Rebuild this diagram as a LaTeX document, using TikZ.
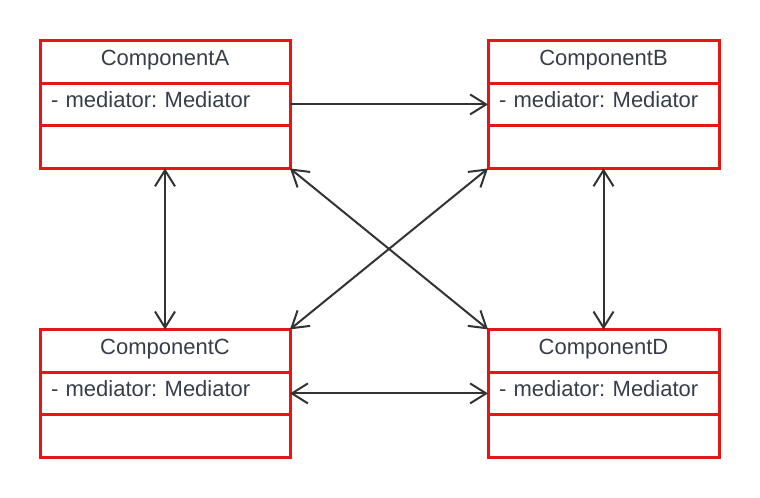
\documentclass[tikz,border=0pt]{standalone}
\usepackage{fontspec}
\setmainfont{Liberation Sans}
\usepackage{tikz}
\usetikzlibrary{arrows.meta,positioning}
\definecolor{classred}{RGB}{230,22,22}
\definecolor{inkgrey}{RGB}{55,61,74}
\definecolor{linkgrey}{RGB}{51,51,51}
\frenchspacing

\begin{document}
\begin{tikzpicture}[x=0.75pt,y=-0.75pt,
  cbox/.style={draw=classred,line width=2.25pt,outer sep=0pt,minimum height=32pt,inner xsep=8.25pt,inner ysep=0pt,text=inkgrey,font=\fontsize{16.5pt}{19pt}\selectfont,text height=0.72em,text depth=0.21em},
  cname/.style={cbox,minimum width=#1,align=center},
  cattr/.style={cbox,text width=#1-16.5pt,align=left},
  cops/.style={cbox,minimum width=#1},
  arr/.style={-{Straight Barb[length=12pt,width=15pt]},line width=1.5pt,linkgrey},
  darr/.style={{Straight Barb[length=12pt,width=15pt]}-{Straight Barb[length=12pt,width=15pt]},line width=1.5pt,linkgrey}]
\useasboundingbox (0,0) rectangle (760,498);
\node[cname=187.5pt] (compA) at (165,61.75) {ComponentA};
\node[cattr=187.5pt,below=0pt of compA] (compAattr) {- mediator: Mediator};
\node[cops=187.5pt,below=0pt of compAattr] (compAops) {};
\node[cname=173.25pt] (compB) at (603.5,61.75) {ComponentB};
\node[cattr=173.25pt,below=0pt of compB] (compBattr) {- mediator: Mediator};
\node[cops=173.25pt,below=0pt of compBattr] (compBops) {};
\node[cname=187.5pt] (compC) at (165,350.75) {ComponentC};
\node[cattr=187.5pt,below=0pt of compC] (compCattr) {- mediator: Mediator};
\node[cops=187.5pt,below=0pt of compCattr] (compCops) {};
\node[cname=173.25pt] (compD) at (603.5,350.75) {ComponentD};
\node[cattr=173.25pt,below=0pt of compD] (compDattr) {- mediator: Mediator};
\node[cops=173.25pt,below=0pt of compDattr] (compDops) {};
\draw[arr] (compAattr.east) -- (compBattr.west);
\draw[darr] (compAops.south) -- (compC.north);
\draw[darr] (compBops.south) -- (compD.north);
\draw[darr] (compCattr.east) -- (compDattr.west);
\draw[darr] (compAops.south east) -- (compD.north west);
\draw[darr] (compBops.south west) -- (compC.north east);
\end{tikzpicture}
\end{document}
